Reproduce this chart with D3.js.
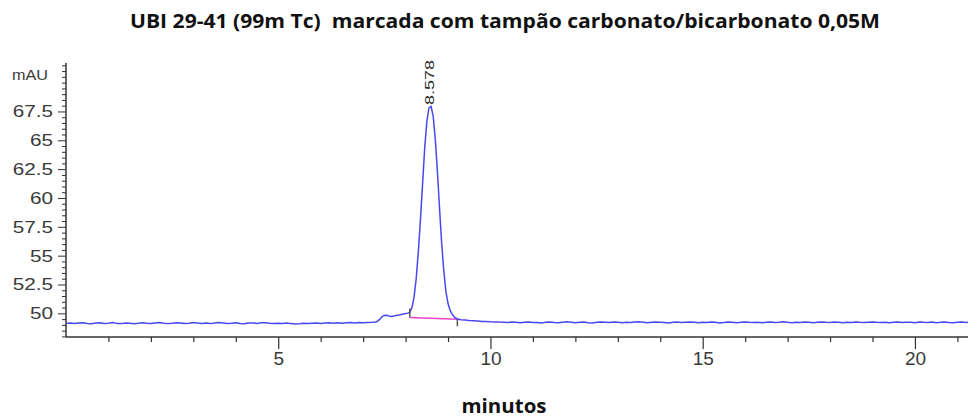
<!DOCTYPE html>
<html><head><meta charset="utf-8">
<script src="https://cdn.jsdelivr.net/npm/d3@7/dist/d3.min.js"></script>
<style>
html,body{margin:0;padding:0;background:#fff;}
svg{display:block;}
</style></head>
<body>
<svg id="chart" width="968" height="420"></svg>
<script>
// ---- data ----
const title = "UBI 29-41 (99m Tc)\u00a0 marcada com tampão carbonato/bicarbonato 0,05M";
const xAxisTitle = "minutos";
const yUnitLabel = "mAU";
const xMajorTicks = [5, 10, 15, 20];
const xMinorTicks = [1,2,3,4,6,7,8,9,11,12,13,14,16,17,18,19,21];
const yMajorTicks = [50, 52.5, 55, 57.5, 60, 62.5, 65, 67.5];
const yTickLabels = ["50", "52.5", "55", "57.5", "60", "62.5", "65", "67.5"];
const xDomain = [0, 21.25];
const yDomain = [47.95, 71.7];

// baseline before the peak, sampled every 0.1 min from 0.0 to 7.3
const leftStart = 0.0, leftStep = 0.1;
const leftValues = [
49.13,49.17,49.12,49.16,49.19,49.13,49.10,49.16,49.18,49.12,
49.15,49.20,49.13,49.11,49.17,49.15,49.10,49.14,49.19,49.15,
49.12,49.17,49.20,49.14,49.11,49.14,49.19,49.16,49.11,49.15,
49.20,49.16,49.13,49.16,49.11,49.17,49.21,49.17,49.12,49.15,
49.19,49.13,49.10,49.16,49.17,49.12,49.18,49.19,49.14,49.11,
49.15,49.13,49.17,49.11,49.08,49.10,49.14,49.11,49.15,49.17,
49.13,49.17,49.19,49.14,49.18,49.15,49.19,49.21,49.16,49.20,
49.18,49.21,49.22,49.25];
// peak region, sampled every 0.05 min from 7.35 to 9.25
const peakStart = 7.35, peakStep = 0.05;
const peakValues = [
49.35,49.52,49.72,49.82,49.84,49.78,49.72,49.74,49.80,49.84,
49.86,49.90,49.94,49.98,50.02,50.10,50.50,51.40,53.00,55.30,
58.10,61.20,64.30,66.60,67.80,67.95,67.10,65.10,62.30,59.10,
56.10,53.70,51.90,50.85,50.25,49.90,49.68,49.55,49.48];
// baseline after the peak, sampled every 0.1 min from 9.3 to 21.3
const rightStart = 9.3, rightStep = 0.1;
const rightValues = [
49.44,49.42,49.38,49.36,49.33,49.30,49.29,49.27,49.26,49.24,
49.23,49.20,49.25,49.22,49.18,49.23,49.26,49.21,49.20,49.17,
49.22,49.25,49.20,49.18,49.23,49.27,49.23,49.19,49.22,49.25,
49.19,49.17,49.22,49.26,49.23,49.20,49.25,49.22,49.18,49.23,
49.20,49.25,49.27,49.23,49.18,49.22,49.26,49.23,49.20,49.17,
49.22,49.25,49.20,49.23,49.26,49.22,49.18,49.23,49.20,49.25,
49.22,49.17,49.20,49.25,49.23,49.18,49.22,49.26,49.22,49.20,
49.23,49.18,49.22,49.25,49.20,49.23,49.27,49.22,49.18,49.23,
49.20,49.25,49.22,49.18,49.23,49.26,49.22,49.20,49.25,49.22,
49.18,49.23,49.20,49.25,49.22,49.20,49.23,49.26,49.22,49.20,
49.23,49.19,49.22,49.25,49.20,49.23,49.22,49.19,49.25,49.22,
49.21,49.24,49.19,49.22,49.26,49.21,49.18,49.23,49.25,49.21,49.23];

const peakApex = {time: 8.578, value: 67.98, label: "8.578"};
const integrationStart = {time: 8.10, value: 49.64};
const integrationEnd = {time: 9.22, value: 49.48};

// ---- build series ----
const trace = [];
leftValues.forEach((v,i)=>trace.push([leftStart + i*leftStep, v]));
peakValues.forEach((v,i)=>trace.push([peakStart + i*peakStep, v]));
rightValues.forEach((v,i)=>trace.push([rightStart + i*rightStep, v]));

// ---- layout ----
const svg = d3.select("#chart");
const plotL = 66, plotR = 968, plotT = 63, plotB = 337;
const x = d3.scaleLinear().domain(xDomain).range([plotL, plotR]);
const y = d3.scaleLinear().domain(yDomain).range([plotB, plotT]);
const axisColor = "#333";
const tickFont = "'Liberation Sans', Arial, sans-serif";
const labelColor = "#3a3a3a";

// title
svg.append("text").attr("x", 505).attr("y", 28)
  .attr("text-anchor", "middle")
  .attr("font-family", "'Open Sans', 'Noto Sans', sans-serif")
  .attr("font-weight", "bold").attr("font-size", 20)
  .attr("textLength", 750).attr("lengthAdjust", "spacingAndGlyphs")
  .attr("fill", "#111").text(title);

// x axis
const gx = svg.append("g").attr("transform", `translate(0,${plotB})`);
gx.call(d3.axisBottom(x).tickValues(xMinorTicks).tickSize(5).tickFormat(""));
const gxM = svg.append("g").attr("transform", `translate(0,${plotB})`);
gxM.call(d3.axisBottom(x).tickValues(xMajorTicks).tickSize(12).tickPadding(3).tickFormat(d3.format("d")));
[gx, gxM].forEach(g=>{
  g.select(".domain").attr("stroke", axisColor).attr("stroke-width", 1.5);
  g.selectAll(".tick line").attr("stroke", axisColor).attr("stroke-width", 1.2);
  g.selectAll("text").attr("font-family", tickFont).attr("font-size", 19).attr("fill", labelColor);
});
gx.select(".domain").attr("d", `M${plotL},0H${plotR}`);
gxM.select(".domain").remove();

// y axis
const yMinor = d3.range(48, 71.75, 0.5).filter(v=>!yMajorTicks.includes(v));
const gy = svg.append("g").attr("transform", `translate(${plotL},0)`);
gy.call(d3.axisLeft(y).tickValues(yMinor).tickSize(4).tickFormat(""));
const gyM = svg.append("g").attr("transform", `translate(${plotL},0)`);
gyM.call(d3.axisLeft(y).tickValues(yMajorTicks).tickSize(8).tickPadding(5)
  .tickFormat((d,i)=>yTickLabels[i]));
[gy, gyM].forEach(g=>{
  g.select(".domain").attr("stroke", axisColor).attr("stroke-width", 1.5);
  g.selectAll(".tick line").attr("stroke", axisColor).attr("stroke-width", 1);
  g.selectAll("text").attr("font-family", tickFont).attr("font-size", 17).attr("fill", labelColor);
});
gyM.selectAll(".tick text").each(function(){
  const w = this.getComputedTextLength();
  d3.select(this).attr("textLength", w * 1.22).attr("lengthAdjust", "spacingAndGlyphs");
});
gy.select(".domain").attr("d", `M0,${plotT}V${plotB}`);
gyM.select(".domain").remove();

// unit label
svg.append("text").attr("x", 48).attr("y", 80)
  .attr("text-anchor", "end").attr("font-family", tickFont)
  .attr("font-size", 15).attr("textLength", 36).attr("lengthAdjust", "spacingAndGlyphs")
  .attr("fill", labelColor).text(yUnitLabel);

// integration baseline
svg.append("line")
  .attr("x1", x(integrationStart.time)).attr("y1", y(integrationStart.value))
  .attr("x2", x(integrationEnd.time)).attr("y2", y(integrationEnd.value))
  .attr("stroke", "#ee44cc").attr("stroke-width", 1.5);

// trace
const line = d3.line().x(d=>x(d[0])).y(d=>y(d[1]));
svg.append("path").datum(trace).attr("d", line)
  .attr("fill", "none").attr("stroke", "#4848f2").attr("stroke-width", 1.5)
  .attr("stroke-linejoin", "round");

// peak start / end markers
svg.append("line")
  .attr("x1", x(integrationStart.time)).attr("x2", x(integrationStart.time))
  .attr("y1", y(integrationStart.value) - 9).attr("y2", y(integrationStart.value))
  .attr("stroke", "#555").attr("stroke-width", 1.5);
svg.append("line")
  .attr("x1", x(integrationEnd.time)).attr("x2", x(integrationEnd.time))
  .attr("y1", y(integrationEnd.value)).attr("y2", y(integrationEnd.value) + 7)
  .attr("stroke", "#555").attr("stroke-width", 1.5);

// peak label (rotated)
const lx = x(peakApex.time), ly = y(peakApex.value) - 1;
svg.append("text")
  .attr("transform", `translate(${lx + 4},${ly}) rotate(-90)`)
  .attr("font-family", tickFont).attr("font-size", 12.5)
  .attr("textLength", 45).attr("lengthAdjust", "spacingAndGlyphs")
  .attr("fill", "#2a2a2a").text(peakApex.label);

// x axis title
svg.append("text").attr("x", 504).attr("y", 413)
  .attr("text-anchor", "middle")
  .attr("font-family", "'Open Sans', 'Noto Sans', sans-serif")
  .attr("font-weight", "bold").attr("font-size", 19)
  .attr("textLength", 85).attr("lengthAdjust", "spacingAndGlyphs")
  .attr("fill", "#111").text(xAxisTitle);
</script>
</body></html>
